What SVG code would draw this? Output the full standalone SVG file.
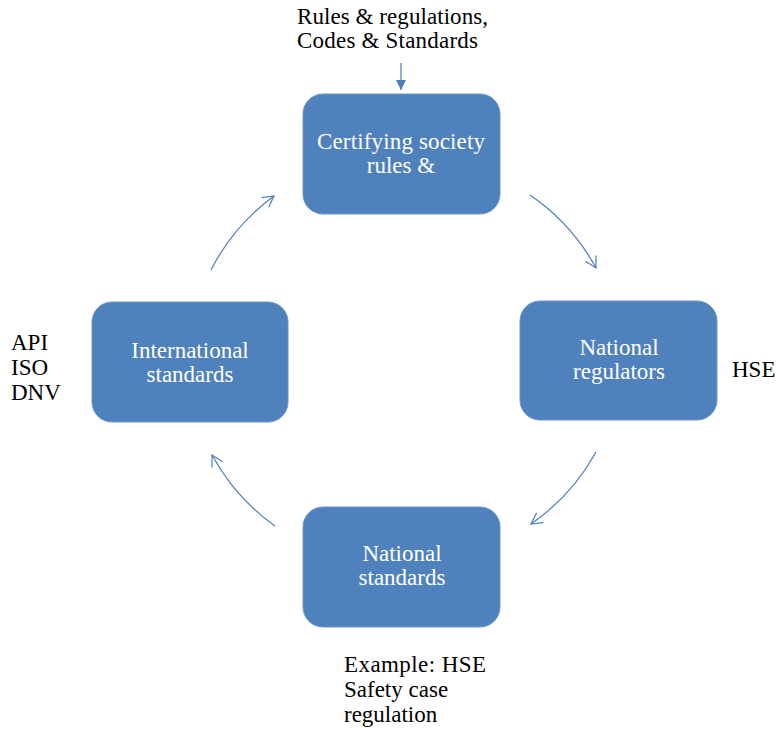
<svg xmlns="http://www.w3.org/2000/svg" width="777" height="729" viewBox="0 0 777 729">
<style>
.box{fill:#4F81BD;stroke:#6D95C6;stroke-width:1}
.nt{font-family:'Liberation Serif',serif;font-size:23px;fill:#FFFFFF;text-anchor:middle}
.lt{font-family:'Liberation Serif',serif;font-size:23px;fill:#000000}
.arc{fill:none;stroke:#4A7EBB;stroke-width:1.2}
</style>
<defs>
<marker id="open" markerUnits="userSpaceOnUse" markerWidth="20" markerHeight="20" refX="12" refY="7" orient="auto">
<path d="M1,1 L12,7 L1,13" fill="none" stroke="#4A7EBB" stroke-width="1.2"/>
</marker>
<marker id="solid" markerUnits="userSpaceOnUse" markerWidth="14" markerHeight="14" refX="10" refY="5" orient="auto">
<path d="M0,0 L10,5 L0,10 Z" fill="#4A7EBB"/>
</marker>
</defs>
<rect width="777" height="729" fill="#FFFFFF"/>
<g id="connectors">
<line class="arc" x1="401" y1="63" x2="401" y2="90" marker-end="url(#solid)"/>
<path class="arc" d="M530,195 A210,210 0 0,1 596,268" marker-end="url(#open)"/>
<path class="arc" d="M596,452 A210,210 0 0,1 531,524" marker-end="url(#open)"/>
<path class="arc" d="M275,526 A210,210 0 0,1 212,455" marker-end="url(#open)"/>
<path class="arc" d="M211,270 A210,210 0 0,1 274,196" marker-end="url(#open)"/>
</g>
<g id="node-certifying">
<rect class="box" x="303" y="94" width="197" height="120" rx="20" ry="20"/>
<text class="nt" x="401" y="149" textLength="168" lengthAdjust="spacing">Certifying society</text>
<text class="nt" x="401" y="173">rules &amp;</text>
</g>
<g id="node-regulators">
<rect class="box" x="520" y="301" width="197" height="119" rx="20" ry="20"/>
<text class="nt" x="619" y="355">National</text>
<text class="nt" x="619" y="379">regulators</text>
</g>
<g id="node-national-standards">
<rect class="box" x="303" y="507" width="197" height="120" rx="20" ry="20"/>
<text class="nt" x="402" y="561">National</text>
<text class="nt" x="402" y="585">standards</text>
</g>
<g id="node-international">
<rect class="box" x="92" y="302" width="196" height="120" rx="20" ry="20"/>
<text class="nt" x="190" y="358">International</text>
<text class="nt" x="190" y="382">standards</text>
</g>
<g id="labels">
<text class="lt" x="297" y="24" textLength="191" lengthAdjust="spacing">Rules &amp; regulations,</text>
<text class="lt" x="297" y="48" textLength="181" lengthAdjust="spacing">Codes &amp; Standards</text>
<text class="lt" x="732" y="377">HSE</text>
<text class="lt" x="11" y="350">API</text>
<text class="lt" x="11" y="375">ISO</text>
<text class="lt" x="11" y="400">DNV</text>
<text class="lt" x="344" y="672" textLength="142" lengthAdjust="spacing">Example:  HSE</text>
<text class="lt" x="344" y="697">Safety case</text>
<text class="lt" x="344" y="722">regulation</text>
</g>
</svg>
